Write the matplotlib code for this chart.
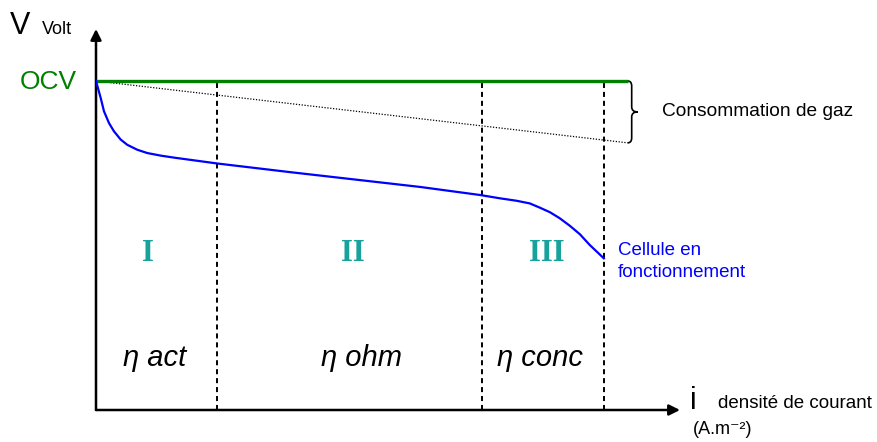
import numpy as np
import matplotlib
matplotlib.use("Agg")
import matplotlib.pyplot as plt
from matplotlib.path import Path
from matplotlib.patches import PathPatch

plt.rcParams['font.family'] = ['Liberation Sans', 'DejaVu Sans']

# Polarisation curve (normalised current density, normalised voltage)
i_cell = [0.0, 0.0093, 0.0157, 0.0256, 0.0354, 0.0486, 0.0616, 0.0813, 0.101,
          0.128, 0.154, 0.173, 0.240, 0.382, 0.638, 0.756, 0.795, 0.828,
          0.854, 0.874, 0.894, 0.913, 0.933, 0.953, 0.972, 1.0]
v_cell = [1.0, 0.948, 0.908, 0.872, 0.847, 0.822, 0.806, 0.791, 0.781,
          0.773, 0.767, 0.763, 0.749, 0.723, 0.678, 0.6535, 0.6435, 0.636,
          0.628, 0.615, 0.601, 0.583, 0.560, 0.534, 0.502, 0.461]

ocv = 1.0
i_gas_end = 1.047          # end of OCV / gas consumption line
v_gas_end = 0.812

# Region boundaries and labels
boundaries = [0.238, 0.760, 1.0]
region_x = [0.102, 0.506, 0.888]
region_roman = ['I', 'II', 'III']
eta_x = [0.116, 0.522, 0.874]
eta_labels = ['η act', 'η ohm', 'η conc']

W, H = 878, 442
fig = plt.figure(figsize=(W / 100, H / 100), dpi=100)
ax = fig.add_axes([96 / W, 32 / H, 584 / W, 381 / H])
xmax, ymax = 1.15, 1.158
ax.set_xlim(0, xmax)
ax.set_ylim(0, ymax)
ax.axis('off')

# axes with arrows
arrow = dict(arrowstyle='-|>', lw=1.8, color='k', mutation_scale=16,
             shrinkA=0, shrinkB=0)
ax.annotate('', xy=(xmax, 0), xytext=(0, 0), arrowprops=arrow, annotation_clip=False)
ax.annotate('', xy=(0, ymax), xytext=(0, 0), arrowprops=arrow, annotation_clip=False)

# region separators
ax.vlines(boundaries, 0, ocv, colors='k', lw=1.4, linestyles=(0, (2.6, 2.0)), zorder=1)

# OCV and gas consumption
ax.hlines(ocv, 0, i_gas_end, colors='#008000', lw=2.4, zorder=3)
ax.plot([0, i_gas_end], [ocv, v_gas_end], color='k', lw=0.9, ls=(0, (1, 1.3)), zorder=2)

# working cell
ax.plot(i_cell, v_cell, color='#0000ff', lw=1.6, zorder=4, solid_joinstyle='round')

# curly brace
px, py = 1 / 508, 1 / 329
bx, sx, tx = i_gas_end, i_gas_end + 4 * px, i_gas_end + 10 * px
ym = (ocv + v_gas_end) / 2
verts = [(bx, ocv), (sx, ocv), (sx, ocv - 5 * py),
         (sx, ym + 5 * py), (sx, ym), (tx, ym),
         (sx, ym), (sx, ym - 5 * py),
         (sx, v_gas_end + 5 * py), (sx, v_gas_end), (bx, v_gas_end)]
codes = [Path.MOVETO, Path.CURVE3, Path.CURVE3,
         Path.LINETO, Path.CURVE3, Path.CURVE3,
         Path.CURVE3, Path.CURVE3,
         Path.LINETO, Path.CURVE3, Path.CURVE3]
ax.add_patch(PathPatch(Path(verts, codes), fc='none', ec='k', lw=1.2, clip_on=False))

# region labels
for x, r in zip(region_x, region_roman):
    ax.text(x, 0.477, r, ha='center', va='center', fontsize=22, fontweight='bold',
            family=['Liberation Serif', 'DejaVu Serif'], color='#17a29c')
for x, t in zip(eta_x, eta_labels):
    ax.text(x, 0.158, t, ha='center', va='center', fontsize=21, style='italic',
            color='k')


def ftext(x, y, s, **kw):
    fig.text(x / W, 1 - y / H, s, **kw)


ftext(10, 34, 'V', fontsize=22, va='baseline')
ftext(42, 34, 'Volt', fontsize=13, va='baseline')
ftext(20, 82, 'OCV', fontsize=19, va='center', color='#008000')
ftext(662, 111, 'Consommation de gaz', fontsize=13.8, va='center')
ftext(618, 255, 'Cellule en', fontsize=13.5, va='baseline', color='#0000ff')
ftext(618, 277, 'fonctionnement', fontsize=13.5, va='baseline', color='#0000ff')
ftext(690, 409, 'i', fontsize=22, va='baseline')
ftext(718, 408, 'densité de courant', fontsize=13.5, va='baseline')
ftext(693, 434, '(A.m⁻²)', fontsize=13, va='baseline')

fig.savefig('out.png', dpi=100)
